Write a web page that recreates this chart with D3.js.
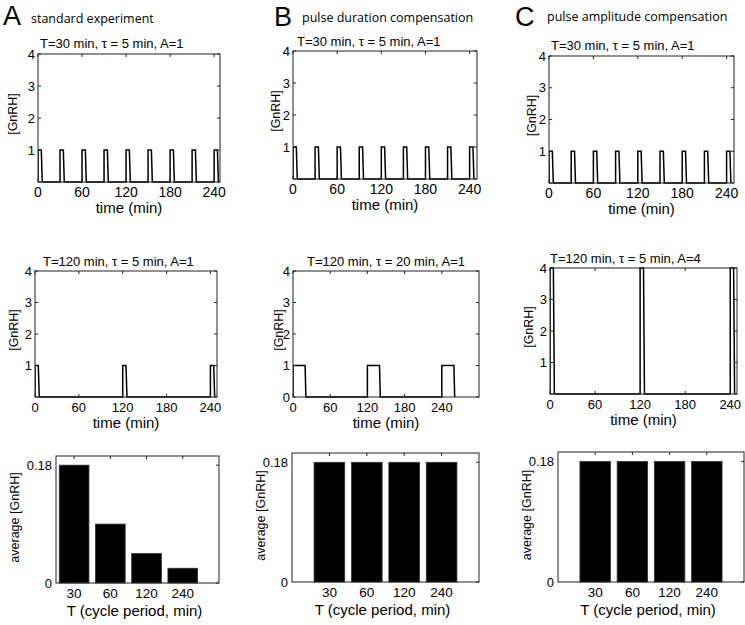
<!DOCTYPE html>
<html><head><meta charset="utf-8">
<script src="https://cdn.jsdelivr.net/npm/d3@7"></script>
<style>body{margin:0;background:#fff}svg{display:block}</style>
</head><body><svg id="c" width="745" height="625"></svg>
<script>
// ---------- data ----------
const timeTicks = [0, 60, 120, 180, 240];
const levelTicks = [0, 1, 2, 3, 4];
const fastPulseStarts = [0, 30, 60, 90, 120, 150, 180, 210, 240];
const slowPulseStarts = [0, 120, 240];
const topTau = [5, 5, 5];
const topAmp = [1, 1, 1];
const midTau = [5, 20, 5];
const midAmp = [1, 1, 4];
const periodCats = ["30", "60", "120", "240"];
const avgStandard = [0.18, 0.09, 0.045, 0.0225];
const avgDuration = [0.18, 0.18, 0.18, 0.18];
const avgAmplitude = [0.18, 0.18, 0.18, 0.18];
const avgTicks = [0, 0.18];
const columnLetters = ["A", "B", "C"];
const columnTitles = ["standard experiment", "pulse duration compensation", "pulse amplitude compensation"];
const topTitles = ["T=30 min, \u03c4 = 5 min, A=1", "T=30 min, \u03c4 = 5 min, A=1", "T=30 min, \u03c4 = 5 min, A=1"];
const midTitles = ["T=120 min, \u03c4 = 5 min, A=1", "T=120 min, \u03c4 = 20 min, A=1", "T=120 min, \u03c4 = 5 min, A=4"];

// ---------- layout ----------
const svg = d3.select("#c");
const SANS = "'Liberation Sans', Arial, sans-serif";
const HUM = "'Open Sans', 'Noto Sans', sans-serif";
const AX = "#222";

const topBoxes = [
  {x0: 38, x1: 220, y0: 54, y1: 182, tmax: 248, tx: 40, ty: 48, ylx: 12.5, zero: false},
  {x0: 293, x1: 477, y0: 51, y1: 179, tmax: 250, tx: 297, ty: 46, ylx: 276, zero: false},
  {x0: 549, x1: 734, y0: 56, y1: 183, tmax: 250, tx: 551, ty: 50, ylx: 532, zero: false}
];
const midBoxes = [
  {x0: 35, x1: 217, y0: 271, y1: 397, tmax: 249, tx: 43, ty: 266, ylx: 14, zero: false},
  {x0: 293, x1: 479, y0: 271, y1: 397, tmax: 300, tx: 307, ty: 266, ylx: 279, zero: true},
  {x0: 550, x1: 737, y0: 268, y1: 394, tmax: 249, tx: 550, ty: 263, ylx: 529, zero: false}
];
const barBoxes = [
  {x0: 56, x1: 219, y0: 456, y1: 583, xlo: 0.5, ylx: 15},
  {x0: 292, x1: 479, y0: 453, y1: 582, xlo: 0, ylx: 261},
  {x0: 558, x1: 744, y0: 452, y1: 582, xlo: 0, ylx: 527}
];
const headers = [
  {lx: 3, ly: 25, tx: 31, ty: 23},
  {lx: 274, ly: 25.5, tx: 302, ty: 22},
  {lx: 515, ly: 25.5, tx: 547, ty: 21}
];

// headers
headers.forEach((h, i) => {
  svg.append("text").attr("x", h.lx).attr("y", h.ly).text(columnLetters[i])
    .style("font-family", SANS).style("font-size", "27px").attr("fill", "#000");
  svg.append("text").attr("x", h.tx).attr("y", h.ty).text(columnTitles[i])
    .style("font-family", HUM).style("font-size", "12.5px").attr("fill", "#000");
});

function boxFrame(g, b) {
  g.append("rect").attr("x", b.x0).attr("y", b.y0).attr("width", b.x1 - b.x0).attr("height", b.y1 - b.y0)
    .attr("fill", "none").attr("stroke", AX).attr("stroke-width", 1);
}

function drawTime(b, starts, tau, amp, title, xfs) {
  const g = svg.append("g");
  const x = d3.scaleLinear().domain([0, b.tmax]).range([b.x0, b.x1]);
  const y = d3.scaleLinear().domain([0, 4]).range([b.y1, b.y0]);
  const id = "clip" + Math.round(b.x0) + "_" + Math.round(b.y0);
  svg.append("clipPath").attr("id", id).append("rect")
    .attr("x", b.x0).attr("y", b.y0 - 1).attr("width", b.x1 - b.x0).attr("height", b.y1 - b.y0 + 2);
  // signal
  const pts = [];
  starts.forEach(s => { pts.push([s, 0], [s, amp], [s + tau - 0.5, amp], [s + tau + 0.8, 0]); });
  g.append("path").attr("clip-path", `url(#${id})`)
    .attr("d", d3.line().x(d => x(d[0])).y(d => y(d[1]))(pts))
    .attr("fill", "none").attr("stroke", "#000").attr("stroke-width", 1.5).attr("stroke-linejoin", "miter");
  // ticks inward
  const tk = 3;
  timeTicks.forEach(t => {
    g.append("line").attr("x1", x(t)).attr("x2", x(t)).attr("y1", b.y1).attr("y2", b.y1 - tk).attr("stroke", AX);
    g.append("line").attr("x1", x(t)).attr("x2", x(t)).attr("y1", b.y0).attr("y2", b.y0 + tk).attr("stroke", AX);
    g.append("text").attr("x", x(t)).attr("y", b.y1 + 15).attr("text-anchor", "middle").text(t)
      .style("font-family", SANS).style("font-size", xfs + "px");
  });
  levelTicks.forEach(v => {
    g.append("line").attr("x1", b.x0).attr("x2", b.x0 + tk).attr("y1", y(v)).attr("y2", y(v)).attr("stroke", AX);
    g.append("line").attr("x1", b.x1).attr("x2", b.x1 - tk).attr("y1", y(v)).attr("y2", y(v)).attr("stroke", AX);
    if (v > 0 || b.zero)
      g.append("text").attr("x", b.x0 - 3).attr("y", y(v) + 4.5).attr("text-anchor", "end").text(v)
        .style("font-family", SANS).style("font-size", "13px");
  });
  boxFrame(g, b);
  g.append("text").attr("x", b.tx).attr("y", b.ty).text(title)
    .style("font-family", SANS).style("font-size", "13px");
  g.append("text").attr("x", (b.x0 + b.x1) / 2).attr("y", b.y1 + 31).attr("text-anchor", "middle").text("time (min)")
    .style("font-family", SANS).style("font-size", "15px");
  g.append("text").attr("transform", `translate(${b.ylx},${(b.y0 + b.y1) / 2 - 4}) rotate(-90)`)
    .attr("text-anchor", "middle").attr("dy", "0.35em").text("[GnRH]")
    .style("font-family", SANS).style("font-size", "12.5px");
}

function drawBars(b, vals) {
  const g = svg.append("g");
  const x = d3.scaleLinear().domain([b.xlo, 5]).range([b.x0, b.x1]);
  const y = d3.scaleLinear().domain([0, 0.194]).range([b.y1, b.y0]);
  const bw = 0.82;
  g.selectAll("rect.bar").data(vals).join("rect").attr("class", "bar")
    .attr("x", (d, i) => x(i + 1 - bw / 2)).attr("width", x(bw) - x(0))
    .attr("y", d => y(d)).attr("height", d => y(0) - y(d))
    .attr("fill", "#000").attr("stroke", "#333").attr("stroke-width", 0.8);
  const tk = 3;
  periodCats.forEach((c, i) => {
    g.append("line").attr("x1", x(i + 1)).attr("x2", x(i + 1)).attr("y1", b.y0).attr("y2", b.y0 + tk).attr("stroke", AX);
    g.append("text").attr("x", x(i + 1)).attr("y", b.y1 + 15).attr("text-anchor", "middle").text(c)
      .style("font-family", SANS).style("font-size", "13.5px");
  });
  avgTicks.forEach(v => {
    g.append("line").attr("x1", b.x1).attr("x2", b.x1 - tk).attr("y1", y(v)).attr("y2", y(v)).attr("stroke", AX);
    g.append("text").attr("x", b.x0 - 4).attr("y", y(v) + 4.5).attr("text-anchor", "end").text(v)
      .style("font-family", SANS).style("font-size", "13px");
  });
  boxFrame(g, b);
  g.append("text").attr("x", (b.x0 + b.x1) / 2 - 3).attr("y", b.y1 + 33).attr("text-anchor", "middle")
    .text("T (cycle period, min)").style("font-family", SANS).style("font-size", "15px");
  g.append("text").attr("transform", `translate(${b.ylx},${(b.y0 + b.y1) / 2 - 2}) rotate(-90)`)
    .attr("text-anchor", "middle").attr("dy", "0.35em").text("average [GnRH]")
    .style("font-family", SANS).style("font-size", "12.5px");
}

topBoxes.forEach((b, i) => drawTime(b, fastPulseStarts, topTau[i], topAmp[i], topTitles[i], 14));
midBoxes.forEach((b, i) => drawTime(b, slowPulseStarts, midTau[i], midAmp[i], midTitles[i], 13));
drawBars(barBoxes[0], avgStandard);
drawBars(barBoxes[1], avgDuration);
drawBars(barBoxes[2], avgAmplitude);
</script></body></html>
